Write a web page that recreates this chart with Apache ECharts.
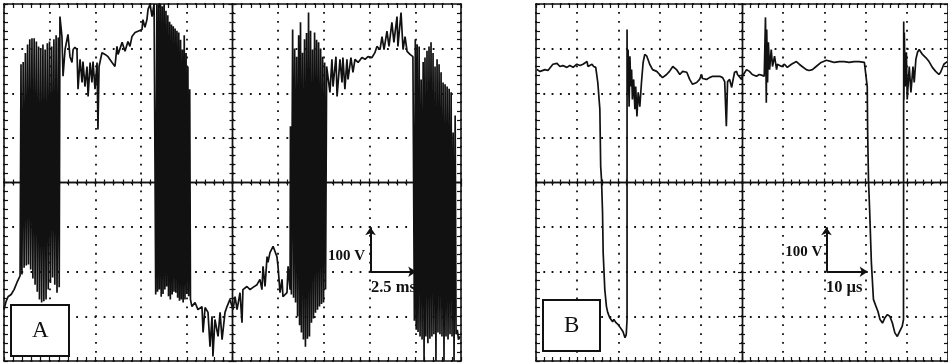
<!DOCTYPE html>
<html>
<head>
<meta charset="utf-8">
<script src="https://cdn.jsdelivr.net/npm/echarts@6/dist/echarts.min.js"></script>
<style>
  html, body { margin: 0; padding: 0; background: #fff; }
  #scope { width: 948px; height: 363px; }
</style>
</head>
<body>
<div id="scope"></div>
<script>
// Trace A: line voltage over 25 ms, [time in ms, voltage in V]
const traceA = [
  // lower level before the first switching burst
  [-12.5,-285],[-12.39,-267],[-12.28,-256],[-12.11,-251],[-11.95,-240],[-11.79,-224],[-11.62,-209],
  // switching burst 1
  [-11.57,265],[-11.52,-206],[-11.45,270],[-11.40,-191],[-11.33,290],[-11.28,-186],[-11.21,309],[-11.16,-184],
  [-11.09,321],[-11.04,-195],[-10.97,323],[-10.92,-215],[-10.85,323],[-10.80,-229],[-10.73,316],[-10.68,-245],
  [-10.61,305],[-10.56,-262],[-10.49,300],[-10.44,-269],[-10.37,309],[-10.32,-266],[-10.25,298],[-10.20,-262],
  [-10.13,312],[-10.08,-240],[-10.01,316],[-9.96,-225],[-9.89,305],[-9.84,-213],[-9.77,321],[-9.72,-229],
  [-9.65,330],[-9.60,-247],[-9.53,325],[-9.48,-235],[-9.44,372],
  // positive half-wave
  [-9.33,327],[-9.27,238],[-9.16,298],[-9.00,332],[-8.89,282],[-8.78,269],[-8.72,298],[-8.62,303],[-8.51,298],
  [-8.45,209],[-8.34,276],[-8.23,224],[-8.18,271],[-8.07,215],[-7.96,260],[-7.90,193],[-7.79,269],[-7.69,224],
  [-7.63,271],[-7.52,209],[-7.41,269],[-7.36,119],[-7.30,260],[-7.14,291],[-6.97,287],[-6.81,282],[-6.59,269],
  [-6.43,260],[-6.32,305],[-6.26,287],[-6.04,314],[-5.88,294],[-5.72,316],[-5.61,305],[-5.50,327],[-5.33,336],
  [-5.17,339],[-4.95,343],[-4.90,365],[-4.79,348],[-4.68,365],[-4.62,388],[-4.51,399],[-4.40,372],[-4.29,400],
  // switching burst 2
  [-4.24,400],[-4.20,-251],[-4.14,400],[-4.10,-245],[-4.04,398],[-4.00,-240],[-3.94,400],[-3.90,-256],
  [-3.84,395],[-3.80,-250],[-3.74,400],[-3.70,-240],[-3.64,385],[-3.60,-233],[-3.54,375],[-3.50,-255],
  [-3.44,360],[-3.40,-262],[-3.34,354],[-3.30,-251],[-3.24,350],[-3.20,-245],[-3.14,345],[-3.10,-247],
  [-3.04,340],[-3.00,-258],[-2.94,336],[-2.90,-265],[-2.84,320],[-2.80,-262],[-2.74,298],[-2.70,-269],
  [-2.64,330],[-2.60,-262],[-2.54,290],[-2.50,-250],[-2.44,260],[-2.40,-255],[-2.34,209],[-2.30,-262],
  // negative half-wave
  [-2.22,-278],[-2.05,-269],[-1.89,-285],[-1.67,-278],[-1.61,-336],[-1.50,-280],[-1.34,-291],[-1.23,-368],
  [-1.12,-300],[-1.07,-390],[-0.96,-307],[-0.79,-345],[-0.68,-291],[-0.57,-352],[-0.41,-291],[-0.30,-278],
  [-0.14,-262],[0.03,-285],[0.14,-256],[0.25,-285],[0.41,-247],[0.52,-314],[0.57,-240],[0.79,-233],
  [0.96,-240],[1.12,-235],[1.34,-229],[1.50,-217],[1.61,-240],[1.67,-188],[1.78,-233],[1.89,-166],
  [1.94,-179],[2.05,-157],[2.22,-143],[2.32,-146],[2.43,-166],[2.49,-188],[2.60,-247],[2.71,-217],
  [2.76,-256],[2.98,-247],[3.04,-188],[3.15,-240],
  // switching burst 3
  [3.17,126],[3.22,-251],[3.29,343],[3.34,-258],[3.40,300],[3.45,-269],[3.51,282],[3.56,-300],[3.62,330],
  [3.67,-320],[3.72,359],[3.77,-336],[3.83,291],[3.88,-352],[3.94,321],[3.99,-368],[4.05,335],[4.10,-350],
  [4.16,381],[4.21,-345],[4.27,340],[4.32,-314],[4.38,298],[4.43,-305],[4.49,336],[4.54,-292],[4.60,320],
  [4.65,-285],[4.71,314],[4.76,-278],[4.82,300],[4.87,-272],[4.93,282],[4.98,-269],[5.04,269],[5.09,-240],
  [5.15,260],
  // positive half-wave
  [5.22,260],[5.33,202],[5.44,276],[5.50,215],[5.66,282],[5.72,193],[5.88,276],[5.99,224],[6.04,280],
  [6.15,209],[6.26,276],[6.32,231],[6.48,280],[6.59,247],[6.70,276],[6.87,269],[7.08,280],[7.25,276],
  [7.41,282],[7.63,280],[7.79,291],[7.90,305],[8.07,298],[8.18,327],[8.29,298],[8.45,339],[8.56,305],
  [8.72,359],[8.83,314],[9.00,372],[9.05,305],[9.22,381],[9.33,298],[9.44,327],[9.55,294],[9.71,287],
  [9.87,282],
  // switching burst 4
  [9.95,-310],[10.00,321],[10.05,-330],[10.10,310],[10.15,-335],[10.21,305],[10.26,-345],[10.32,231],
  [10.37,-352],[10.43,270],[10.48,-400],[10.53,280],[10.58,-345],[10.64,295],[10.69,-360],[10.75,305],
  [10.80,-350],[10.86,314],[10.91,-345],[10.97,290],[11.02,-340],[11.08,260],[11.13,-400],[11.19,276],
  [11.24,-336],[11.30,265],[11.35,-340],[11.41,247],[11.46,-345],[11.52,224],[11.57,-400],[11.63,220],
  [11.68,-345],[11.74,215],[11.79,-352],[11.85,210],[11.90,-340],[11.96,202],[12.01,-345],[12.07,112],
  [12.12,-400],[12.18,150],[12.23,-340],[12.30,-330],[12.36,-352],[12.45,-345]
];

// Trace B: one switching interval over 100 us, [time in us, voltage in V]
const traceB = [
  [-49.8,253],[-49.0,249],[-47.8,253],[-47.1,251],[-45.9,265],[-44.9,267],[-44.2,260],[-43.5,262],
  [-42.5,258],[-41.8,262],[-41.0,258],[-40.1,265],[-39.3,262],[-38.6,265],[-37.6,271],[-37.4,260],
  [-36.4,265],[-36.0,260],[-35.5,258],[-35.0,224],[-34.5,164],[-34.3,36],[-34.1,7],[-33.85,-67],
  [-33.7,-157],[-33.3,-240],[-32.9,-278],[-32.6,-291],[-32.1,-303],[-31.4,-312],[-31.1,-307],[-30.6,-314],
  [-30.1,-318],[-29.7,-323],[-28.9,-334],[-28.4,-348],[-28.1,-341],[-27.9,-307],
  [-27.9,343],[-27.85,202],[-27.65,298],[-27.4,170],[-27.2,283],[-27.0,215],[-26.8,253],[-26.6,186],
  [-26.3,231],[-26.0,164],[-25.8,215],[-25.5,148],[-25.2,202],[-24.8,170],[-24.4,224],[-24.0,269],
  [-23.6,287],[-23.1,283],[-22.4,265],[-21.7,253],[-20.7,249],[-20.0,242],[-19.3,235],[-18.3,242],
  [-17.6,249],[-16.8,260],[-15.9,253],[-15.1,242],[-14.4,249],[-13.4,247],[-12.7,231],[-12.0,220],
  [-11.0,224],[-10.3,231],[-9.8,242],[-9.6,233],[-8.6,231],[-7.9,235],[-7.1,238],[-6.2,238],
  [-5.4,238],[-4.7,235],[-4.2,226],[-3.8,126],[-3.5,226],[-3.0,231],[-2.5,213],[-2.3,224],
  [-1.8,247],[-1.3,249],[-1.1,242],[-0.1,231],[0.1,238],[1.1,253],[1.8,249],[2.5,242],
  [3.5,238],[4.2,242],[4.9,240],[5.4,238],[5.7,370],[5.9,179],[6.0,343],[6.2,224],
  [6.4,314],[6.7,253],[7.1,298],[7.4,260],[7.9,283],[8.4,253],[8.6,265],[9.6,260],
  [10.3,265],[11.0,258],[12.0,265],[13.2,271],[13.9,265],[14.6,260],[15.6,253],[16.3,251],
  [17.1,253],[18.0,260],[19.2,269],[20.5,274],[21.7,271],[22.4,269],[23.6,271],[24.8,271],
  [26.0,269],[27.2,271],[28.4,271],[29.7,269],[30.1,265],[30.4,215],[30.5,112],[30.7,7],
  [31.0,-67],[31.4,-179],[31.9,-262],[32.5,-277],[33.0,-289],[33.5,-307],[34.1,-315],[34.7,-303],
  [35.3,-296],[35.9,-300],[36.5,-315],[37.1,-337],[37.7,-345],[38.3,-333],[38.9,-322],[39.2,-307],
  [39.25,361],[39.3,186],[39.4,336],[39.6,215],[39.9,292],[40.1,186],[40.6,260],[41.0,202],
  [41.5,260],[41.8,224],[42.2,276],[42.6,292],[43.0,298],[43.8,287],[44.6,280],[45.4,271],
  [46.2,258],[47.0,249],[47.8,242],[48.2,247],[49.0,265],[49.8,271]
];

// Axis ranges: [min, max, one division]
const timeRangeA = [-12.5, 12.5, 2.5];
const timeRangeB = [-50, 50, 10];
const voltRange = [-400, 400, 100];

// Scale markers: [time origin, volt origin, time span, volt span]
const scaleA = [7.55, -200, 2.5, 100];
const scaleB = [20.5, -200, 10, 100];
const scaleTextA = ['100 V', '2.5 ms'];
const scaleTextB = ['100 V', '10 µs'];
const panelNames = ['A', 'B'];

const ink = '#111';
const serif = '"Liberation Serif", "DejaVu Serif", serif';

// Graticule: solid frame with minor ticks, dotted division lines
function frameAxis(gridIndex, range, position, split, dash) {
  return {
    type: 'value', gridIndex, position,
    min: range[0], max: range[1], interval: range[2],
    axisLine: { show: true, onZero: false, lineStyle: { color: ink, width: 1.6 } },
    axisTick: { show: true, inside: true, length: 4, lineStyle: { color: ink, width: 1.2 } },
    minorTick: { show: true, splitNumber: 5, length: 4, lineStyle: { color: ink, width: 1.2 } },
    axisLabel: { show: false },
    splitLine: { show: split, lineStyle: { color: ink, width: 1.8, type: dash, dashOffset: 0.9 } },
    minorSplitLine: { show: false }
  };
}
// Centre cross-hair: solid line with ticks on both sides
function centreAxis(gridIndex, range, position, inside, zeroOf) {
  return {
    type: 'value', gridIndex, position,
    min: range[0], max: range[1], interval: range[2],
    axisLine: { show: true, onZero: true, onZeroAxisIndex: zeroOf, lineStyle: { color: ink, width: 1.4 } },
    axisTick: { show: true, inside, length: 4, lineStyle: { color: ink, width: 1.2 } },
    minorTick: { show: true, splitNumber: 5, length: 3, lineStyle: { color: ink, width: 1.2 } },
    axisLabel: { show: false },
    splitLine: { show: false }
  };
}

function scaleMarks(s, txt, textPos) {
  return {
    markLine: {
      silent: true, animation: false,
      symbol: ['none', 'arrow'], symbolSize: 8,
      lineStyle: { color: ink, width: 2, type: 'solid' },
      label: { show: false },
      data: [
        [{ coord: [s[0], s[1]] }, { coord: [s[0], s[1] + s[3]] }],
        [{ coord: [s[0], s[1]] }, { coord: [s[0] + s[2], s[1]] }]
      ]
    },
    markPoint: {
      silent: true, animation: false, symbol: 'rect', symbolSize: 0,
      label: { show: true, position: 'inside', color: ink, fontFamily: serif, fontWeight: 'bold', fontSize: 15 },
      data: [
        { coord: textPos[0], label: { formatter: txt[0] } },
        { coord: textPos[1], label: { formatter: txt[1], fontSize: 16.5 } }
      ]
    }
  };
}

function traceSeries(data, axisIndex, extra) {
  return Object.assign({
    type: 'line', data, xAxisIndex: axisIndex, yAxisIndex: axisIndex,
    showSymbol: false, symbol: 'none', smooth: false, clip: true,
    lineStyle: { color: ink, width: 1.7 },
    emphasis: { disabled: true }
  }, extra);
}

const chart = echarts.init(document.getElementById('scope'), null, { renderer: 'canvas' });
chart.setOption({
  backgroundColor: '#fff',
  animation: false,
  title: panelNames.map((name, i) => ({
    text: name,
    left: [11, 543][i], top: [305, 300][i],
    padding: [14, 21],
    borderColor: ink, borderWidth: 2, backgroundColor: '#fff',
    textStyle: { fontFamily: serif, fontWeight: 'normal', fontSize: 23, lineHeight: 23, color: ink }
  })),
  grid: [
    { left: 4, top: 4, width: 457, height: 357 },
    { left: 536, top: 4, width: 413, height: 357 }
  ],
  xAxis: [
    frameAxis(0, timeRangeA, 'bottom', true, [1.8, 7.12]),
    frameAxis(0, timeRangeA, 'top', false),
    centreAxis(0, timeRangeA, 'bottom', true, 0),
    centreAxis(0, timeRangeA, 'bottom', false, 0),
    frameAxis(1, timeRangeB, 'bottom', true, [1.8, 7.12]),
    frameAxis(1, timeRangeB, 'top', false),
    centreAxis(1, timeRangeB, 'bottom', true, 4),
    centreAxis(1, timeRangeB, 'bottom', false, 4)
  ],
  yAxis: [
    frameAxis(0, voltRange, 'left', true, [1.8, 7.34]),
    frameAxis(0, voltRange, 'right', false),
    centreAxis(0, voltRange, 'left', true, 0),
    centreAxis(0, voltRange, 'left', false, 0),
    frameAxis(1, voltRange, 'left', true, [1.8, 6.46]),
    frameAxis(1, voltRange, 'right', false),
    centreAxis(1, voltRange, 'left', true, 4),
    centreAxis(1, voltRange, 'left', false, 4)
  ],
  series: [
    traceSeries(traceA, 0, scaleMarks(scaleA, scaleTextA, [[6.24, -164], [8.8, -235]])),
    traceSeries(traceB, 4, scaleMarks(scaleB, scaleTextB, [[15.0, -155], [24.8, -235]]))
  ]
});
</script>
</body>
</html>
